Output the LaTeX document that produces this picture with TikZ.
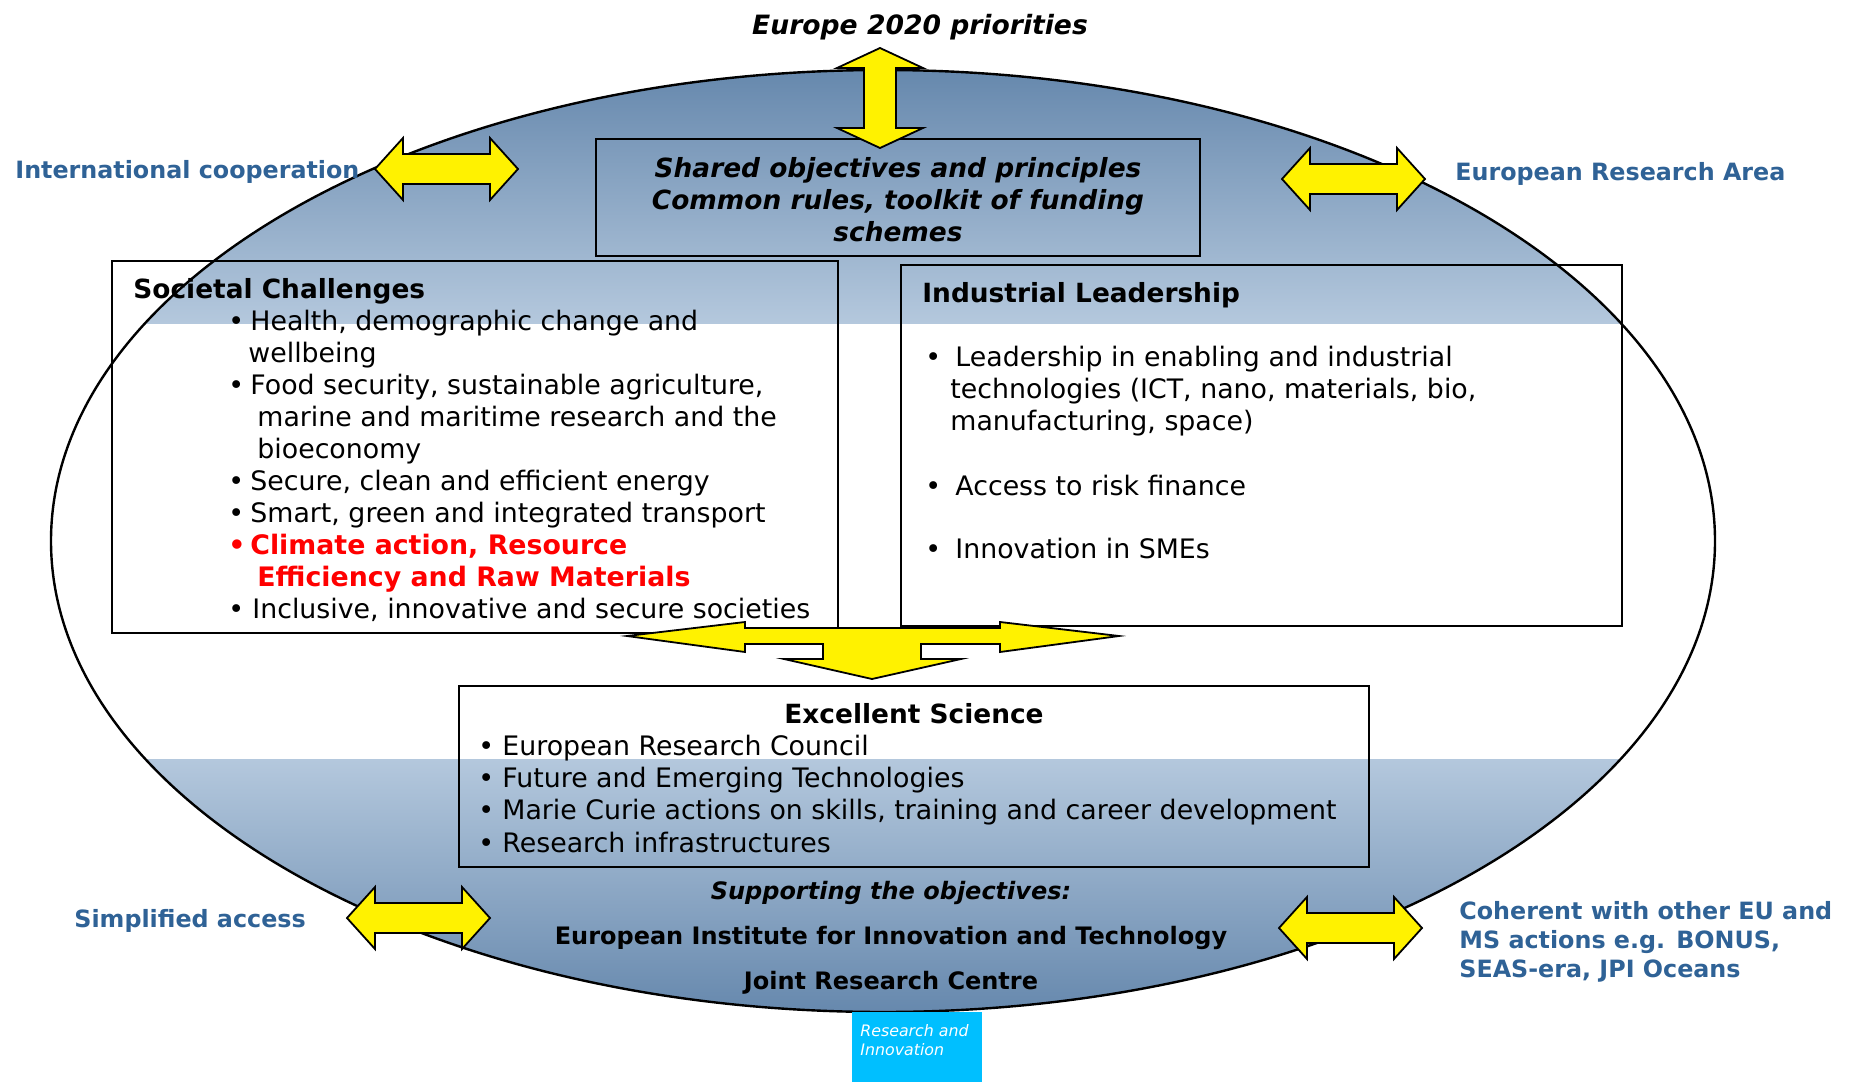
\documentclass[tikz,border=0pt]{standalone}
\usepackage{fontspec}
\setmainfont{DejaVu Sans}[ItalicFont={DejaVu Sans Oblique},BoldFont={DejaVu Sans Bold},BoldItalicFont={DejaVu Sans Bold Oblique}]
\definecolor{ellblue}{RGB}{102,136,173}
\definecolor{elllight}{RGB}{180,200,221}
\definecolor{sideblue}{RGB}{47,98,150}
\definecolor{rimcyan}{RGB}{0,191,255}
\newcommand{\blt}[1][11pt]{\makebox[#1][l]{\textbullet}}

\tikzset{
  box/.style={draw, line width=1pt, inner sep=0pt},
  yarrow/.style={draw, fill=yellow, line width=0.9pt, line join=miter},
  body/.style={anchor=base west, inner sep=0pt, font=\fontsize{13.4}{16}\selectfont},
  head/.style={anchor=base west, inner sep=0pt, font=\fontsize{13.2}{16}\selectfont\bfseries},
  shtext/.style={anchor=base, inner sep=0pt, font=\fontsize{13.2}{16}\selectfont\bfseries\itshape},
  side/.style={anchor=base west, inner sep=0pt, text=sideblue, font=\fontsize{11.9}{14}\selectfont\bfseries},
  support/.style={anchor=base, inner sep=0pt, font=\fontsize{12}{14}\selectfont\bfseries}
}

\begin{document}
\begin{tikzpicture}[x=0.5pt,y=-0.5pt]
\useasboundingbox (0,0) rectangle (1849,1082);
\coordinate (ctr) at (883,541);

\begin{scope}
  \clip (ctr) ellipse [x radius=416pt, y radius=235.5pt];
  \shade[top color=ellblue, bottom color=elllight] (0,70) rectangle (1849,323);
  \shade[top color=elllight, bottom color=ellblue] (0,759) rectangle (1849,1013);
\end{scope}
\draw[line width=1.2pt] (ctr) ellipse [x radius=416pt, y radius=235.5pt];

\node[rectangle, fill=rimcyan, minimum width=65pt, minimum height=35pt, inner sep=0pt] (rim) at (917,1047) {};
\node[anchor=base west, inner sep=0pt, text=white, font=\fontsize{7.9}{9}\selectfont\itshape] (rim1) at (860,1036) {Research and};
\node[anchor=base west, inner sep=0pt, text=white, font=\fontsize{7.9}{9}\selectfont\itshape] (rim2) at (860,1055) {Innovation};

\node[anchor=base, inner sep=0pt, font=\fontsize{13.3}{16}\selectfont\bfseries\itshape] (prio) at (920,34) {Europe 2020 priorities};

\node[box, minimum width=302pt, minimum height=58.5pt] (shared) at (898,197.5) {};
\foreach \ty/\txt [count=\i] in {177/Shared objectives and principles, 209/{Common rules, toolkit of funding}, 241/schemes}
  \node[shtext] (sh\i) at (898,\ty) {\txt};

\node[box, minimum width=363pt, minimum height=186pt] (soc) at (475,447) {};
\node[head] (soctitle) at (133,298) {Societal Challenges};
\foreach \ty/\tx/\txt [count=\i] in {
    330/228/{\blt Health, demographic change and},
    362/248/{wellbeing},
    394/228/{\blt Food security, sustainable agriculture,},
    426/257/{marine and maritime research and the},
    458/257/{bioeconomy},
    490/228/{\blt Secure, clean and efficient energy},
    522/228/{\blt Smart, green and integrated transport},
    554/228/{\color{red}\bfseries\blt Climate action, Resource},
    586/257/{\color{red}\bfseries Efficiency and Raw Materials},
    618/228/{\blt[12pt]Inclusive, innovative and secure societies}}
  \node[body] (sc\i) at (\tx,\ty) {\txt};

\node[box, minimum width=360.5pt, minimum height=180.5pt] (ind) at (1261.5,445.5) {};
\node[head] (indtitle) at (922,302) {Industrial Leadership};
\foreach \ty/\tx/\txt [count=\i] in {
    366/925/{\blt[15pt]Leadership in enabling and industrial},
    398/950/{technologies (ICT, nano, materials, bio,},
    430/950/{manufacturing, space)},
    495/925/{\blt[15pt]Access to risk finance},
    558/925/{\blt[15pt]Innovation in SMEs}}
  \node[body] (il\i) at (\tx,\ty) {\txt};

\node[box, minimum width=455pt, minimum height=90.5pt] (exc) at (914,776.5) {};
\node[head, anchor=base] (exctitle) at (914,723) {Excellent Science};
\foreach \ty/\txt [count=\i] in {
    755/{European Research Council},
    787/{Future and Emerging Technologies},
    819/{Marie Curie actions on skills, training and career development},
    852/{Research infrastructures}}
  \node[body] (es\i) at (478,\ty) {\blt[12pt]\txt};

\node[support, font=\fontsize{12}{14}\selectfont\bfseries\itshape] (sup1) at (891,899) {Supporting the objectives:};
\node[support] (sup2) at (891,944) {European Institute for Innovation and Technology};
\node[support] (sup3) at (891,989) {Joint Research Centre};

\node[side] (intl) at (15,178) {International cooperation};
\node[side] (era) at (1455,180) {European Research Area};
\node[side] (simple) at (74,927) {Simplified access};
\node[side] (coh1) at (1459,919) {Coherent with other EU and};
\node[side] (coh2) at (1459,948) {MS actions e.g. BONUS,};
\node[side] (coh3) at (1459,977) {SEAS-era, JPI Oceans};

\foreach \cx/\cy in {446/169, 1353/179, 418/918, 1350/928}
  \draw[yarrow] (\cx-71,\cy) -- ++(28,-31) -- ++(0,16) -- ++(87,0) -- ++(0,-16)
    -- ++(28,31) -- ++(-28,31) -- ++(0,-16) -- ++(-87,0) -- ++(0,16) -- cycle;

\draw[yarrow] (880,48) -- (923,68) -- (896,68) -- (896,128) -- (923,128) -- (880,148)
  -- (837,128) -- (864,128) -- (864,68) -- (837,68) -- cycle;

\draw[yarrow] (627,636) -- (745,622) -- (745,628) -- (1000,628) -- (1000,622) -- (1119,636)
  -- (1000,652) -- (1000,644) -- (921,644) -- (921,659) -- (961,659) -- (872,679)
  -- (784,659) -- (823,659) -- (823,644) -- (745,644) -- (745,652) -- cycle;
\end{tikzpicture}
\end{document}
